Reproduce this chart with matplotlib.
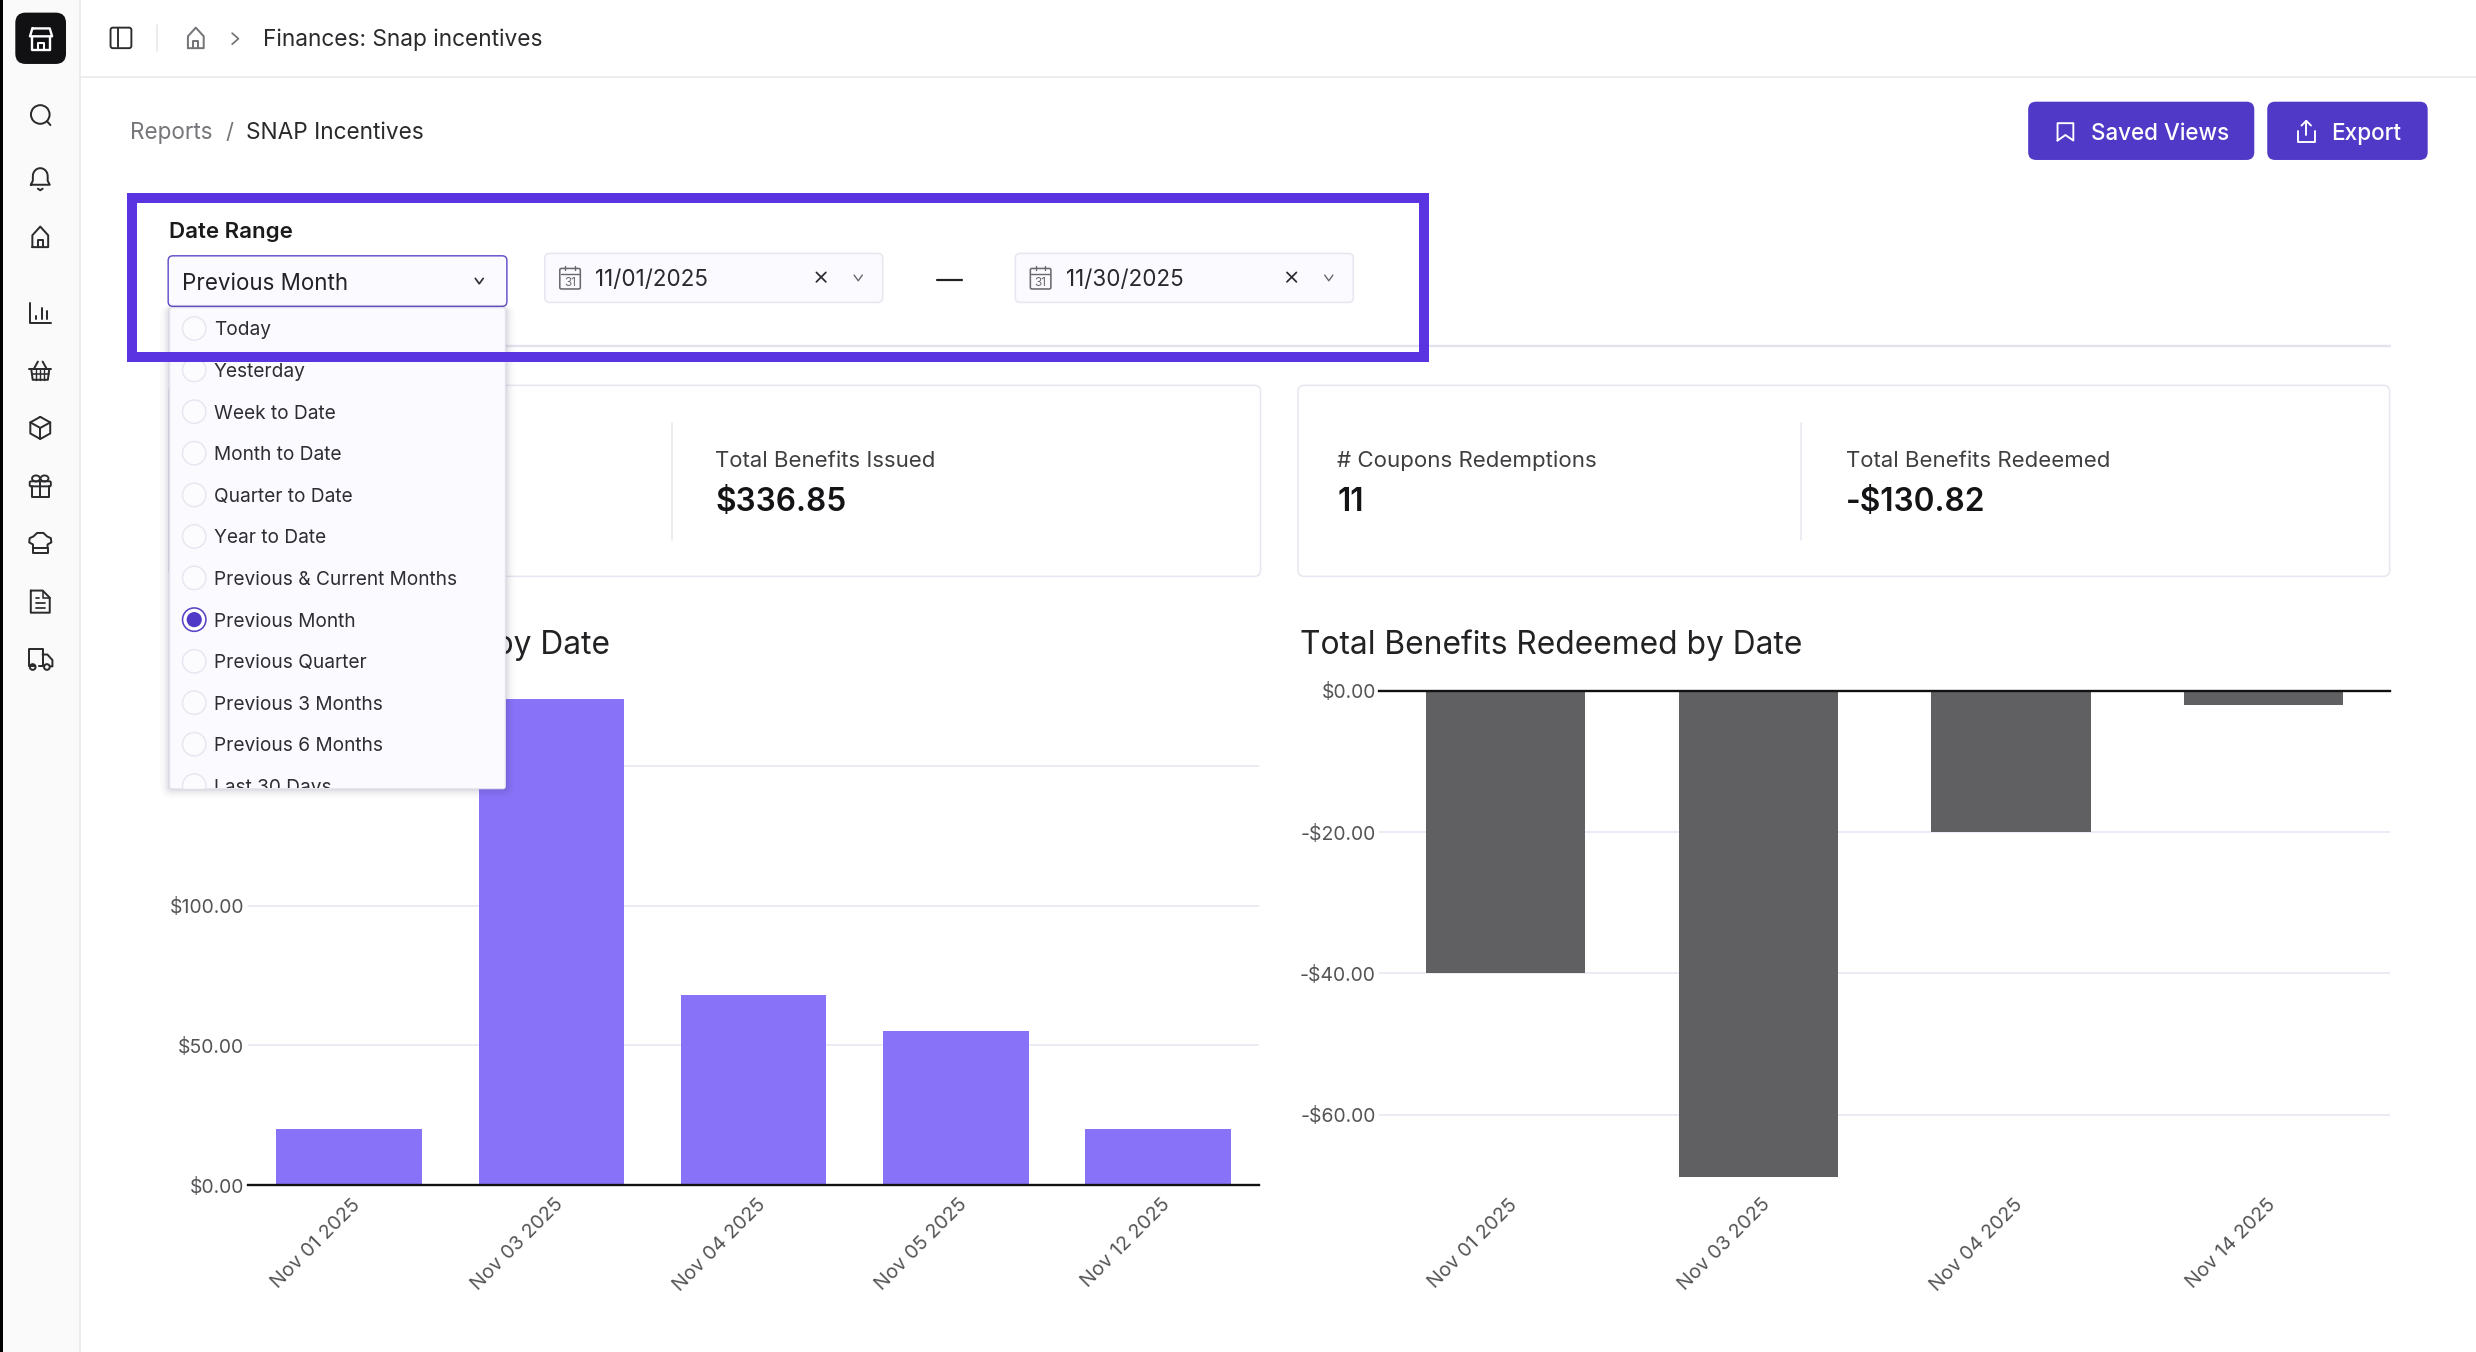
import numpy as np
import matplotlib
matplotlib.use("Agg")
import matplotlib.pyplot as plt
from matplotlib.patches import FancyBboxPatch, Rectangle, Circle, Ellipse
from matplotlib.ticker import FuncFormatter
from matplotlib.transforms import Bbox, TransformedBbox, ScaledTranslation

plt.rcParams['font.family'] = ['Inter', 'DejaVu Sans']

# ---- data ----
issued_dates = ["Nov 01 2025", "Nov 03 2025", "Nov 04 2025", "Nov 05 2025", "Nov 12 2025"]
issued_values = [20.0, 173.85, 68.0, 55.0, 20.0]
issued_ticks = [0, 50, 100, 150]
redeemed_dates = ["Nov 01 2025", "Nov 03 2025", "Nov 04 2025", "Nov 14 2025"]
redeemed_values = [-40.0, -68.82, -20.0, -2.0]
redeemed_ticks = [0, -20, -40, -60]
menu_items = ["Today", "Yesterday", "Week to Date", "Month to Date", "Quarter to Date", "Year to Date",
              "Previous & Current Months", "Previous Month", "Previous Quarter", "Previous 3 Months",
              "Previous 6 Months", "Last 30 Days"]
menu_rows = [208, 234.3, 260.7, 287, 313.4, 339.7, 366, 392.4, 418.8, 445, 471.3, 497.5]
nav_icons_y = [73, 113, 150, 198, 235, 271, 308, 344, 381, 417]

W, H = 1568.0, 1568.0 * 1352 / 2476
PT = 2476 / 1568 * 0.72      # points per layout unit
fs = lambda px: px * PT

BAR_ISSUED = "#8872f7"
BAR_REDEEMED = "#606062"
GRID = "#e6e6f4"
INK = "#1c1c1e"
LABEL = "#3f3f42"
TICK = "#545457"
BRAND = "#4f39c6"
HILITE = "#5b34e2"
EDGE = "#e7e7f1"
FIELD = "#fafaff"

fig = plt.figure(figsize=(24.76, 13.52), dpi=100, facecolor="white")


def chart_axes(x0, x1, y_top, y_bottom):
    return fig.add_axes([x0 / W, (H - y_bottom) / H, (x1 - x0) / W, (y_bottom - y_top) / H], facecolor="white")


def money(v, _):
    return f"-${abs(v):.2f}" if v < 0 else f"${abs(v):.2f}"


def style_chart(ax, ticks):
    for s in ax.spines.values():
        s.set_visible(False)
    ax.set_yticks(ticks)
    ax.yaxis.set_major_formatter(FuncFormatter(money))
    ax.tick_params(axis='y', length=0, pad=2.6, labelsize=fs(12.3), labelcolor=TICK)
    ax.tick_params(axis='x', length=0, pad=7.5, labelsize=fs(12.5), labelcolor=TICK)
    ax.grid(axis='y', color=GRID, lw=1.1, zorder=0)
    ax.set_axisbelow(True)
    ax.axhline(0, color="#111111", lw=1.7, zorder=3, clip_on=False)
    nudge = ScaledTranslation(1.6 * PT / 72, 0, fig.dpi_scale_trans)
    for lab in ax.get_xticklabels():
        lab.set_rotation(45)
        lab.set_ha('right')
        lab.set_va('top')
        lab.set_rotation_mode('anchor')
        lab.set_transform(lab.get_transform() + nudge)


# left chart
ax1 = chart_axes(157, 797.5, 437.5, 750.5)
x1 = np.arange(len(issued_dates))
ax1.bar(x1, issued_values, width=0.72, color=BAR_ISSUED, zorder=2)
ax1.set_xlim(-0.5, len(issued_dates) - 0.5)
ax1.set_ylim(0, 176.8)
ax1.set_xticks(x1, issued_dates)
style_chart(ax1, issued_ticks)

# right chart
ax2 = chart_axes(873.5, 1513.5, 437.5, 750.5)
x2 = np.arange(len(redeemed_dates))
ax2.bar(x2, redeemed_values, width=0.63, color=BAR_REDEEMED, zorder=2)
ax2.set_xlim(-0.5, len(redeemed_dates) - 0.5)
ax2.set_ylim(-69.95, 0)
ax2.set_xticks(x2, redeemed_dates)
style_chart(ax2, redeemed_ticks)

# overlay in layout units
ui = fig.add_axes([0, 0, 1, 1], facecolor="none", zorder=10)
ui.set_xlim(0, W)
ui.set_ylim(H, 0)
ui.axis("off")


def T(x, y, s, px=14, color=INK, weight="normal", ha="left", **kw):
    return ui.text(x, y, s, fontsize=fs(px), color=color, fontweight=weight, ha=ha, va="center_baseline", **kw)


def L(pts, color="#2b2b2e", lw=1.25, z=5, close=False):
    pts = list(pts)
    if close:
        pts.append(pts[0])
    xs, ys = zip(*pts)
    ui.plot(xs, ys, color=color, lw=lw * PT, solid_capstyle="round", solid_joinstyle="round", zorder=z)


def RR(x0, y0, x1, y1, r=4, fc="white", ec="none", lw=1, z=2, alpha=None):
    p = FancyBboxPatch((x0 + r, y0 + r), x1 - x0 - 2 * r, y1 - y0 - 2 * r, boxstyle=f"round,pad={r},rounding_size={r}",
                       fc=fc, ec=ec, lw=lw * PT, zorder=z, alpha=alpha)
    ui.add_patch(p)
    return p


def C(x, y, r, fc="none", ec="#2b2b2e", lw=1.25, z=5):
    ui.add_patch(Circle((x, y), r, fc=fc, ec=ec, lw=lw * PT, zorder=z))


def chevron(x, y, w=3, h=2, color="#333336", lw=1.1, z=6):
    L([(x - w, y - h), (x, y + h), (x + w, y - h)], color=color, lw=lw, z=z)


def house(cx, cy, color="#2b2b2e", s=1.0, lw=1.25):
    pts = [(-5, 6.5), (-5, -1), (0, -6.5), (5, -1), (5, 6.5)]
    L([(cx + a * s, cy + b * s) for a, b in pts], color=color, close=True, lw=lw)
    L([(cx - 1.7 * s, cy + 6.5 * s), (cx - 1.7 * s, cy + 2 * s), (cx + 1.7 * s, cy + 2 * s), (cx + 1.7 * s, cy + 6.5 * s)],
      color=color, lw=lw)


def clip_to(txt, x0, y0, x1, y1):
    txt.set_clip_box(TransformedBbox(Bbox([[x0, y0], [x1, y1]]), ui.transData))
    txt.set_clip_on(True)


# side bar and top bar
ui.add_patch(Rectangle((0, 0), 50, H, fc="#fafafa", ec="none", zorder=1))
ui.add_patch(Rectangle((0, 0), 2, H, fc="#000000", ec="none", zorder=3))
L([(50.5, 0), (50.5, H)], color="#e9e9e9", lw=1, z=2)
L([(50.5, 48.5), (W, 48.5)], color="#e9e9e9", lw=1, z=2)
RR(9.7, 8, 41.8, 40.5, r=6.5, fc="#111114", z=3)
L([(20.5, 18), (31.5, 18), (33, 23), (19, 23)], color="white", lw=1.5, close=True)
L([(20.5, 23.5), (20.5, 31.5), (31.5, 31.5), (31.5, 23.5)], color="white", lw=1.5)
L([(24, 31.5), (24, 27), (28, 27), (28, 31.5)], color="white", lw=1.3)

RR(70, 17.5, 83.2, 30.5, r=1.5, fc="none", ec="#2b2b2e", lw=1.2, z=5)
L([(74.5, 18), (74.5, 30)], lw=1.2)
L([(99.3, 16), (99.3, 32)], color="#e6e6e6", lw=1)
house(124, 24, color="#747478")
L([(147, 21), (151, 24.5), (147, 28)], color="#747478", lw=1.1)
T(166.3, 23.6, "Finances: Snap incentives", 14.38, color="#2a2a2d")

# nav icons
cx = 25.5
ys = nav_icons_y
# search
C(cx, ys[0] - 0.5, 5.9)
L([(cx + 4.2, ys[0] + 3.7), (cx + 6.4, ys[0] + 6.2)])
# bell
by = ys[1]
t = np.linspace(np.pi, 2 * np.pi, 14)
L([(cx - 6, by + 4), (cx - 4.7, by + 1.5)] + [(cx + 4.7 * np.cos(a), by - 1.5 + 5 * np.sin(a)) for a in t] +
  [(cx + 4.7, by + 1.5), (cx + 6, by + 4)], close=True)
L([(cx - 1.5, by + 6.5), (cx, by + 7.5), (cx + 1.5, by + 6.5)])
# home
house(cx, ys[2])
# chart
cy = ys[3]
L([(cx - 6.5, cy - 6), (cx - 6.5, cy + 6.5), (cx + 7, cy + 6.5)])
L([(cx - 2.8, cy + 4), (cx - 2.8, cy + 2)])
L([(cx + 0.8, cy + 4), (cx + 0.8, cy - 3)])
L([(cx + 4.5, cy + 4), (cx + 4.5, cy - 1)])
# basket
cy = ys[4]
L([(cx - 7, cy - 1.3), (cx + 7, cy - 1.3)])
L([(cx - 5.7, cy - 1.3), (cx - 4.8, cy + 5.5), (cx + 4.8, cy + 5.5), (cx + 5.7, cy - 1.3)])
L([(cx - 4, cy - 1.5), (cx - 1.5, cy - 6)])
L([(cx + 4, cy - 1.5), (cx + 1.5, cy - 6)])
L([(cx - 5.3, cy + 2), (cx + 5.3, cy + 2)], lw=1)
for dx in (-2.4, 0, 2.4):
    L([(cx + dx, cy - 1), (cx + dx, cy + 5.5)], lw=0.9)
# cube
cy = ys[5]
hx = [(cx, cy - 7), (cx + 6.3, cy - 3.5), (cx + 6.3, cy + 3.5), (cx, cy + 7), (cx - 6.3, cy + 3.5), (cx - 6.3, cy - 3.5)]
L(hx, close=True)
L([(cx - 6.3, cy - 3.5), (cx, cy), (cx + 6.3, cy - 3.5)])
L([(cx, cy), (cx, cy + 7)])
# gift
cy = ys[6]
RR(cx - 6.7, cy - 3.2, cx + 6.7, cy + 0, r=0.8, fc="none", ec="#2b2b2e", lw=1.2, z=5)
L([(cx - 5.5, cy), (cx - 5.5, cy + 6.5), (cx + 5.5, cy + 6.5), (cx + 5.5, cy)])
L([(cx, cy - 3), (cx, cy + 6.5)])
ui.add_patch(Ellipse((cx - 2.7, cy - 5), 5, 3.8, fc="none", ec="#2b2b2e", lw=1.2 * PT, zorder=5))
ui.add_patch(Ellipse((cx + 2.7, cy - 5), 5, 3.8, fc="none", ec="#2b2b2e", lw=1.2 * PT, zorder=5))
# chef hat
cy = ys[7]
hat = [(cx - 4.6, cy + 3), (cx - 4.6, cy + 0.8), (cx - 7, cy - 0.5), (cx - 6.7, cy - 3.2), (cx - 4.3, cy - 4.3),
       (cx - 2, cy - 6.5), (cx + 2, cy - 6.5), (cx + 4.3, cy - 4.3), (cx + 6.7, cy - 3.2), (cx + 7, cy - 0.5),
       (cx + 4.6, cy + 0.8), (cx + 4.6, cy + 3)]
L(hat)
L([(cx - 4.6, cy + 3), (cx - 4.6, cy + 6.5), (cx + 4.6, cy + 6.5), (cx + 4.6, cy + 3), (cx - 4.6, cy + 3)])
# document
cy = ys[8]
L([(cx - 6, cy - 7), (cx + 1.5, cy - 7), (cx + 6, cy - 2.5), (cx + 6, cy + 7), (cx - 6, cy + 7)], close=True)
L([(cx + 1.5, cy - 7), (cx + 1.5, cy - 2.5), (cx + 6, cy - 2.5)], lw=1)
L([(cx - 3, cy - 2), (cx - 0.5, cy - 2)], lw=1.1)
L([(cx - 3, cy + 1), (cx + 3, cy + 1)], lw=1.1)
L([(cx - 3, cy + 4), (cx + 3, cy + 4)], lw=1.1)
# truck
cy = ys[9]
L([(cx - 3.5, cy + 5), (cx - 7, cy + 5), (cx - 7, cy - 6), (cx + 1.5, cy - 6), (cx + 1.5, cy + 5), (cx - 0.5, cy + 5)])
L([(cx + 1.5, cy - 2.5), (cx + 4.5, cy - 2.5), (cx + 7.7, cy + 1), (cx + 7.7, cy + 5), (cx + 6.5, cy + 5)])
C(cx - 4.8, cy + 5.4, 1.8)
C(cx + 4.2, cy + 5.4, 1.8)

# breadcrumb + buttons
T(82.3, 82.7, "Reports", 14.25, color="#75757a")
T(142.5, 82.7, "/", 14.1, color="#75757a")
T(155.5, 82.7, "SNAP Incentives", 14.33, color="#2a2a2d")
RR(1284.4, 64.4, 1427.6, 101.3, r=5, fc=BRAND)
RR(1435.8, 64.4, 1537.4, 101.3, r=5, fc=BRAND)
T(1324.5, 83, "Saved Views", 14.2, color="white", weight=500)
T(1476, 83, "Export", 14.3, color="white", weight=500)
L([(1303, 89), (1303, 78), (1313, 78), (1313, 89), (1308, 85.5)], color="white", close=True, lw=1.2)
L([(1455, 83), (1455, 90), (1466, 90), (1466, 83)], color="white", lw=1.2)
L([(1460.5, 85.5), (1460.5, 76.5)], color="white", lw=1.2)
L([(1457.5, 79.5), (1460.5, 76.5), (1463.5, 79.5)], color="white", lw=1.2)

# filter row
L([(320, 219), (1513.5, 219)], color="#e3e3f0", lw=1.5, z=1.5)
T(107.2, 145.5, "Date Range", 14.1, color="#1a1a1c", weight=600)
RR(106.5, 162, 321, 194, r=3, fc=FIELD, ec="#5f4cc6", lw=0.9, z=4)
T(115.3, 178.5, "Previous Month", 14.2, color="#232326", zorder=6)
chevron(303.5, 178, w=2.5, h=1.7, color="#333336")
for x0, date in ((345, "11/01/2025"), (643, "11/30/2025")):
    RR(x0, 160.5, x0 + 214, 191.5, r=3, fc=FIELD, ec=EDGE, lw=1, z=4)
    RR(x0 + 9.5, 170, x0 + 22.5, 183, r=1, fc="none", ec="#6a6a6e", lw=1, z=5)
    L([(x0 + 10, 173.5), (x0 + 22, 173.5)], color="#6a6a6e", lw=0.9)
    L([(x0 + 13, 168.5), (x0 + 13, 171)], color="#6a6a6e", lw=0.9)
    L([(x0 + 19, 168.5), (x0 + 19, 171)], color="#6a6a6e", lw=0.9)
    T(x0 + 16, 178.5, "31", 7.5, color="#6a6a6e", ha="center", zorder=6)
    T(x0 + 32, 176, date, 14.2, color="#2a2a2d", zorder=6)
    L([(x0 + 172, 172.5), (x0 + 178, 178.5)], lw=1.1)
    L([(x0 + 178, 172.5), (x0 + 172, 178.5)], lw=1.1)
    chevron(x0 + 198.5, 176, w=2.6, h=1.8, color="#6a6a6e", lw=0.9)
L([(593.5, 177.3), (609.5, 177.3)], color="#222222", lw=1.4)

# summary cards
for x0 in (107, 822):
    RR(x0, 244, x0 + 691.3, 365, r=4, fc="white", ec=EDGE, lw=1, z=1.5)
    L([(x0 + 318.5, 268), (x0 + 318.5, 342)], color=EDGE, lw=1, z=2)
T(453, 290.5, "Total Benefits Issued", 14.05, color=LABEL, zorder=3)
T(453, 316.3, "$336.85", 20, color="#141416", weight=600, zorder=3)
T(847, 290.5, "# Coupons Redemptions", 14.1, color=LABEL, zorder=3)
T(847, 316.3, "11", 20, color="#141416", weight=600, zorder=3)
T(1169, 290.5, "Total Benefits Redeemed", 14.05, color=LABEL, zorder=3)
T(1169, 316.3, "-$130.82", 20, color="#141416", weight=600, zorder=3)

# chart titles
left_title = T(386, 406.7, "Total Benefits Issued by Date", 20.1, color="#222225", ha="right", zorder=3)
clip_to(left_title, 320, 390, 500, 425)
T(823, 406.7, "Total Benefits Redeemed by Date", 20.1, color="#222225", zorder=3)

# dropdown menu
for grow, a in ((6, 0.02), (4, 0.03), (2.5, 0.05), (1.2, 0.07)):
    RR(107.5 - grow, 195 - grow * 0.4, 320 + grow, 499.5 + grow, r=2 + grow, fc="#30305a", alpha=a, z=6)
menu = RR(107.5, 195, 320, 499.5, r=1.5, fc=FIELD, ec="#e4e4ee", lw=0.7, z=7)
for row, item in zip(menu_rows, menu_items):
    active = item == "Previous Month"
    circ = Circle((123, row), 7.4, fc="white" if active else "#fcfcff", ec="#5743c4" if active else "#e6e6f0",
                  lw=(1.0 if active else 0.9) * PT, zorder=8)
    ui.add_patch(circ)
    circ.set_clip_path(menu.get_path(), menu.get_transform())
    if active:
        C(123, row, 4.8, fc="#4f39c6", ec="none", z=9)
    txt = T(135.5, row, item, 12.1, color="#2e2e31", zorder=9)
    clip_to(txt, 107.5, 195, 320, 499.3)

# highlight frame lies over everything
for rect in ((80.3, 122.4, 824.5, 6), (80.3, 222.8, 824.5, 6.4), (80.3, 122.4, 6.5, 106.8), (898.4, 122.4, 6.5, 106.8)):
    ui.add_patch(Rectangle(rect[:2], rect[2], rect[3], fc=HILITE, ec="none", zorder=20))

fig.savefig("out.png", dpi=100, facecolor="white")
